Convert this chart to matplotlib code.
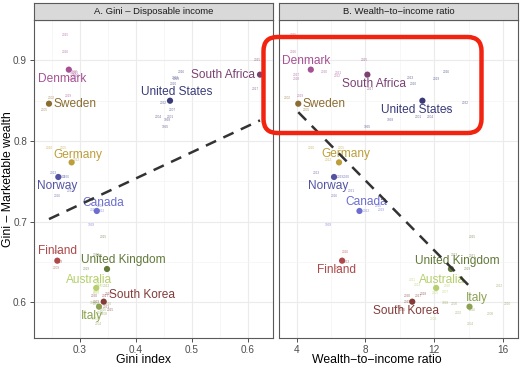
import numpy as np
import matplotlib
matplotlib.use("Agg")
import matplotlib.pyplot as plt
from matplotlib.patches import FancyBboxPatch

plt.rcParams['font.family'] = ['Liberation Sans', 'DejaVu Sans']

# -- DATA -- #

countries = ["Denmark", "Sweden", "South Africa", "United States", "Germany",
             "Norway", "Canada", "Finland", "United Kingdom", "Australia",
             "South Korea", "Italy"]

colors = ["#a55194", "#8c6d31", "#7b4173", "#393b79", "#bd9e39", "#5254a3",
          "#6b6ecf", "#ad494a", "#637939", "#b5cf6b", "#843c39", "#8ca252"]

gini_income  = [0.280, 0.2445, 0.622, 0.461, 0.285, 0.2612, 0.330, 0.2594,
                0.3483, 0.329, 0.3424, 0.334]
wealth_ratio = [4.82, 4.09, 8.11, 11.31, 6.46, 6.17, 7.65, 6.64, 12.97, 12.11,
                10.72, 14.05]
gini_wealth  = [0.8885, 0.8463, 0.8823, 0.850, 0.7736, 0.7555, 0.7134, 0.6518,
                0.6415, 0.618, 0.601, 0.5948]

# single survey years (small labels)
year_labels = {
    "Denmark": [2015, 2016, 2017, 2018, 2020, 2021, 2022, 2019],
    "Sweden": [2002, 2005],
    "South Africa": [2015, 2017],
    "United States": [2016, 2013, 2019, 2010, 2022, 2007, 2004, 2001, 1998, 1995],
    "Germany": [2010, 2005, 2012],
    "Norway": [2013, 2019, 2020, 2021, 2016],
    "Canada": [2012, 2019, 2016, 1999],
    "Finland": [2016, 2013, 2009],
    "United Kingdom": [2015, 2013, 2021, 2019],
    "Australia": [2011, 2013, 2020, 2007, 2005, 2004],
    "South Korea": [2020, 2019, 2017, 2018, 2021, 2015],
    "Italy": [2016, 2004, 1998, 2000, 2002, 2012, 2010, 2008],
}
year_gini_income = {
    "Denmark": [0.274, 0.274, 0.288, 0.286, 0.289, 0.291, 0.293, 0.279],
    "Sweden": [0.248, 0.237],
    "South Africa": [0.618, 0.613],
    "United States": [0.482, 0.470, 0.472, 0.467, 0.449, 0.466, 0.440, 0.461, 0.456, 0.452],
    "Germany": [0.246, 0.270, 0.294],
    "Norway": [0.252, 0.268, 0.275, 0.282, 0.259],
    "Canada": [0.339, 0.324, 0.336, 0.321],
    "Finland": [0.259, 0.264, 0.257],
    "United Kingdom": [0.342, 0.330, 0.334, 0.311],
    "Australia": [0.332, 0.332, 0.336, 0.330, 0.329, 0.327],
    "South Korea": [0.325, 0.330, 0.345, 0.350, 0.348, 0.354],
    "Italy": [0.342, 0.333, 0.323, 0.329, 0.336, 0.347, 0.350, 0.343],
}
year_wealth_ratio = {
    "Denmark": [3.80, 3.80, 4.00, 4.00, 5.61, 6.42, 6.36, 4.23],
    "Sweden": [3.45, 4.58],
    "South Africa": [7.92, 8.27],
    "United States": [12.68, 10.60, 12.10, 10.79, 13.80, 12.83, 11.76, 11.08, 9.43, 8.11],
    "Germany": [4.87, 6.62, 5.84],
    "Norway": [5.16, 6.52, 6.87, 7.20, 6.17],
    "Canada": [8.04, 8.95, 8.75, 5.84],
    "Finland": [6.81, 6.87, 6.41],
    "United Kingdom": [14.23, 13.18, 14.19, 13.90],
    "Australia": [10.70, 10.99, 12.74, 12.64, 12.05, 11.96],
    "South Korea": [10.41, 10.41, 11.08, 11.37, 9.90, 10.13],
    "Italy": [14.19, 14.13, 12.64, 13.18, 13.41, 15.78, 16.23, 15.26],
}
year_gini_wealth = {
    "Denmark": [0.932, 0.910, 0.882, 0.877, 0.886, 0.884, 0.880, 0.856],
    "Sweden": [0.853, 0.839],
    "South Africa": [0.901, 0.864],
    "United States": [0.886, 0.878, 0.877, 0.871, 0.847, 0.839, 0.830, 0.830, 0.826, 0.817],
    "Germany": [0.792, 0.791, 0.776],
    "Norway": [0.761, 0.756, 0.756, 0.738, 0.732],
    "Canada": [0.713, 0.715, 0.720, 0.696],
    "Finland": [0.663, 0.650, 0.643],
    "United Kingdom": [0.681, 0.659, 0.657, 0.642],
    "Australia": [0.628, 0.622, 0.620, 0.613, 0.612, 0.580],
    "South Korea": [0.608, 0.601, 0.608, 0.610, 0.594, 0.591],
    "Italy": [0.591, 0.573, 0.599, 0.598, 0.587, 0.621, 0.598, 0.586],
}

# -- LAYOUT -- #

# country label offsets (points) and alignment, one table per panel
offsets_a = {
    "Denmark": (-5, -6.5, "center"), "Sweden": (3, 0, "left"),
    "South Africa": (-3.6, 0, "right"), "United States": (5, 6, "center"),
    "Germany": (4.8, 5.5, "center"), "Norway": (-0.7, -6.8, "center"),
    "Canada": (4.7, 6, "center"), "Finland": (0, 6.7, "center"),
    "United Kingdom": (11.9, 6.2, "center"), "Australia": (-5.3, 6, "center"),
    "South Korea": (3.6, 4.5, "left"), "Italy": (-5.2, -7, "center"),
}
offsets_b = {
    "Denmark": (-3.6, 6, "center"), "Sweden": (3.4, 0, "left"),
    "South Africa": (5, -7, "center"), "United States": (-4.3, -6.8, "center"),
    "Germany": (5, 6, "center"), "Norway": (-4.3, -6.8, "center"),
    "Canada": (4.8, 6.3, "center"), "Finland": (-4.3, -6.5, "center"),
    "United Kingdom": (4.5, 5.8, "center"), "Australia": (4.1, 6, "center"),
    "South Korea": (-4.8, -6.7, "center"), "Italy": (5, 6.3, "center"),
}

W, H = 520, 367
fig = plt.figure(figsize=(W / 100, H / 100), dpi=100)


def px_axes(x0, y0, x1, y1):
    return fig.add_axes([x0 / W, 1 - y1 / H, (x1 - x0) / W, (y1 - y0) / H])


def px_text(x, y, s, **kw):
    fig.text(x / W, 1 - y / H, s, ha="center", va="center", **kw)


def draw_panel(ax, strip, xs, year_x, offsets, title, xlim, xmaj, xmin, xfmt):
    ax.set_xlim(*xlim)
    ax.set_ylim(0.556, 0.950)
    ax.set_xticks(xmaj)
    ax.set_xticks(xmin, minor=True)
    ax.set_xticklabels([xfmt(v) for v in xmaj])
    ax.set_yticks([0.6, 0.7, 0.8, 0.9])
    ax.set_yticks([0.65, 0.75, 0.85], minor=True)
    ax.grid(which="major", color="#ebebeb", linewidth=0.8)
    ax.grid(which="minor", color="#f4f4f4", linewidth=0.5)
    ax.set_axisbelow(True)
    for sp in ax.spines.values():
        sp.set_color("#5a5a5a")
        sp.set_linewidth(0.8)
    ax.tick_params(which="major", length=3, width=0.6, color="#333333",
                   labelsize=7.2, labelcolor="#4d4d4d", pad=2)
    ax.tick_params(which="minor", length=0)

    for c, col in zip(countries, colors):
        for yr, xv, yv in zip(year_labels[c], year_x[c], year_gini_wealth[c]):
            ax.text(xv, yv, str(yr), fontsize=2.3, color=col, alpha=0.7,
                    ha="center", va="center", zorder=2)

    ax.scatter(xs, gini_wealth, s=20, c=colors, zorder=3, linewidths=0)

    for c, col, xv, yv in zip(countries, colors, xs, gini_wealth):
        dx, dy, ha = offsets[c]
        ax.annotate(c, (xv, yv), xytext=(dx, dy), textcoords="offset points",
                    ha=ha, va="center", fontsize=8.6, color=col, zorder=4)

    # OLS fit over the country points
    slope, icpt = np.polyfit(xs, gini_wealth, 1)
    fx = np.array([min(xs), max(xs)])
    ax.plot(fx, slope * fx + icpt, color="#333333", linewidth=1.8,
            dashes=(4.5, 3.2), zorder=5)

    strip.set_xticks([])
    strip.set_yticks([])
    strip.set_facecolor("#d9d9d9")
    for sp in strip.spines.values():
        sp.set_color("#5a5a5a")
        sp.set_linewidth(0.8)
    strip.text(0.5, 0.5, title, ha="center", va="center", fontsize=6.8,
               color="#1a1a1a", transform=strip.transAxes)


ax_a = px_axes(34, 20, 272.7, 338)
st_a = px_axes(34, 3, 272.7, 20)
ax_b = px_axes(279, 20, 518, 338)
st_b = px_axes(279, 3, 518, 20)

draw_panel(ax_a, st_a, gini_income, year_gini_income, offsets_a,
           "A. Gini \u2013 Disposable income", (0.2177, 0.6447),
           [0.3, 0.4, 0.5, 0.6], [0.25, 0.35, 0.45, 0.55],
           lambda v: f"{v:.1f}")
draw_panel(ax_b, st_b, wealth_ratio, year_wealth_ratio, offsets_b,
           "B. Wealth\u2212to\u2212income ratio", (2.97, 16.87),
           [4, 8, 12, 16], [6, 10, 14], lambda v: f"{v:d}")

ax_b.set_yticklabels([])
ax_b.tick_params(axis="y", length=0)
ax_a.set_yticklabels(["0.6", "0.7", "0.8", "0.9"])

px_text(143, 360, "Gini index", fontsize=8.8)
px_text(377, 360, "Wealth\u2212to\u2212income ratio", fontsize=8.8)
px_text(8.5, 179, "Gini \u2013 Marketable wealth", fontsize=8.8, rotation=90)

# red highlight box over the top of panel B
over = fig.add_axes([0, 0, 1, 1], facecolor="none")
over.set_xlim(0, W)
over.set_ylim(H, 0)
over.axis("off")
over.add_patch(FancyBboxPatch((263.5 + 10, 37 + 10), 218 - 20, 96 - 20,
                              boxstyle="round,pad=10,rounding_size=14",
                              facecolor="none", edgecolor="#f2230f",
                              linewidth=3.2, zorder=10))

fig.savefig("out.png", dpi=100)
